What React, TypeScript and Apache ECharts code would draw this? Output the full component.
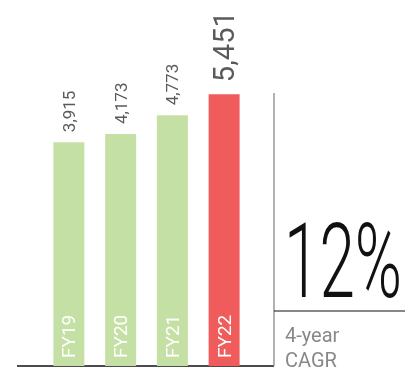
import React, { useEffect, useRef } from "react";
import * as echarts from "echarts";

const categories = ["FY19", "FY20", "FY21", "FY22"];
const values = [3915, 4173, 4773, 5451];
const valueLabels = ["3,915", "4,173", "4,773", "5,451"];
const barColors = ["#c5e0a5", "#c5e0a5", "#c5e0a5", "#f05c5c"];
const cagrValue = "12%";
const cagrLines = ["4-year", "CAGR"];
const axisStart = -3250;

export default function App() {
  const ref = useRef<HTMLDivElement>(null);
  useEffect(() => {
    if (!ref.current) return;
    const chart = echarts.init(ref.current, null, { renderer: "svg" });
    const font = "Roboto, 'Liberation Sans', sans-serif";
    chart.setOption({
      animation: false,
      grid: { left: 43, width: 207, top: 77, bottom: 5 },
      xAxis: {
        type: "category",
        data: categories,
        axisLine: { show: false },
        axisTick: { show: false },
        axisLabel: { show: false },
      },
      yAxis: {
        type: "value",
        min: axisStart,
        max: 6000,
        startValue: axisStart,
        show: false,
        splitLine: { show: false },
      },
      series: [
        {
          type: "bar",
          barWidth: 31,
          data: values.map((v, i) => ({
            value: v,
            itemStyle: { color: barColors[i] },
            label: {
              show: true,
              position: "top",
              rotate: 90,
              align: "left",
              verticalAlign: "middle",
              distance: i === 3 ? 12 : 10,
              formatter: valueLabels[i],
              color: "#5a5a5a",
              fontFamily: font,
              fontWeight: 400,
              fontSize: i === 3 ? 29 : 17,
            },
          })),
          z: 2,
        },
        {
          type: "bar",
          barWidth: 31,
          barGap: "-100%",
          data: values.map((v, i) => ({
            value: v,
            itemStyle: { color: "rgba(0,0,0,0)" },
            label: {
              show: true,
              position: "insideBottom",
              rotate: 90,
              align: "left",
              verticalAlign: "middle",
              distance: 8,
              formatter: categories[i],
              color: "#ffffff",
              fontFamily: font,
              fontWeight: 400,
              fontSize: 19,
            },
          })),
          z: 3,
        },
      ],
      graphic: [
        {
          type: "line",
          shape: { x1: 17, y1: 366, x2: 274, y2: 366 },
          style: { stroke: "#111", lineWidth: 1.5 },
        },
        {
          type: "line",
          shape: { x1: 274, y1: 93, x2: 274, y2: 366 },
          style: { stroke: "#999", lineWidth: 1.5 },
        },
        {
          type: "line",
          shape: { x1: 274, y1: 311, x2: 405, y2: 311 },
          style: { stroke: "#111", lineWidth: 1.2 },
        },
        {
          type: "text",
          x: 284,
          y: 314,
          scaleX: 0.62,
          style: {
            text: cagrValue,
            fontFamily: font,
            fontWeight: 300,
            fontSize: 103,
            fill: "#111",
            verticalAlign: "bottom",
          },
        },
        {
          type: "text",
          x: 285,
          y: 322,
          style: {
            text: cagrLines.join("\n"),
            fontFamily: font,
            fontWeight: 400,
            fontSize: 20,
            lineHeight: 25,
            fill: "#888",
            verticalAlign: "top",
          },
        },
      ],
    });
    return () => chart.dispose();
  }, []);
  return (
    <div
      ref={ref}
      style={{ position: "fixed", left: 0, top: 0, width: 405, height: 371 }}
    />
  );
}
